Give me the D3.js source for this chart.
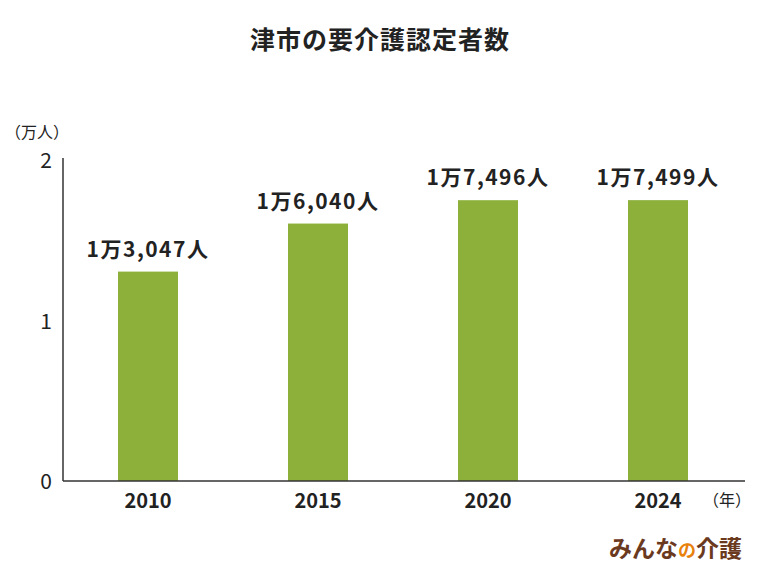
<!DOCTYPE html><html><head><meta charset="utf-8"><script src="https://cdn.jsdelivr.net/npm/d3@7"></script>
<style>body{margin:0;background:#fff}text{font-family:"Noto Sans CJK JP","Noto Sans",sans-serif}</style></head><body>
<script>
const years=["2010","2015","2020","2024"];
const values=[1.3047,1.6040,1.7496,1.7499];
const labels=["1万3,047人","1万6,040人","1万7,496人","1万7,499人"];
const yTicks=[0,1,2];
const W=760,H=570;
const svg=d3.select("body").append("svg").attr("width",W).attr("height",H);
const x=d3.scaleBand().domain(years).range([63,743]);
const y=d3.scaleLinear().domain([0,2]).range([481,160]);
svg.append("text").attr("x",380).attr("y",49).attr("text-anchor","middle").attr("font-size",25).attr("font-weight","bold").attr("letter-spacing",1).attr("fill","#222").text("津市の要介護認定者数");
svg.selectAll("rect.b").data(years).join("rect").attr("x",d=>x(d)+x.bandwidth()/2-30).attr("width",60)
 .attr("y",(d,i)=>y(values[i])).attr("height",(d,i)=>y(0)-y(values[i])).attr("fill","#8cb03a");
svg.append("line").attr("x1",63).attr("x2",63).attr("y1",158).attr("y2",481).attr("stroke","#333").attr("stroke-width",1.5);
svg.append("line").attr("x1",63).attr("x2",745).attr("y1",481).attr("y2",481).attr("stroke","#333").attr("stroke-width",1.5);
svg.selectAll("text.yt").data(yTicks).join("text").attr("x",46).attr("y",d=>y(d)+8).attr("text-anchor","middle").attr("font-size",21).attr("fill","#222").text(d=>d);
svg.selectAll("text.xt").data(years).join("text").attr("x",d=>x(d)+x.bandwidth()/2).attr("y",508).attr("text-anchor","middle").attr("font-size",20).attr("font-weight","bold").attr("fill","#222").text(d=>d);
svg.selectAll("text.vl").data(years).join("text").attr("x",d=>x(d)+x.bandwidth()/2).attr("y",(d,i)=>y(values[i])-15).attr("text-anchor","middle").attr("font-size",21).attr("font-weight","bold").attr("letter-spacing",1.5).attr("fill","#222").text((d,i)=>labels[i]);
svg.append("text").attr("x",37).attr("y",138).attr("text-anchor","middle").attr("font-size",16).attr("fill","#222").text("（万人）");
svg.append("text").attr("x",727).attr("y",506).attr("text-anchor","middle").attr("font-size",16).attr("fill","#222").text("（年）");
const lg=svg.append("text").attr("x",742).attr("y",557).attr("text-anchor","end").attr("font-size",23).attr("font-weight","bold").attr("fill","#6b3a1e");
lg.append("tspan").text("みんな");
lg.append("tspan").attr("fill","#e8820c").attr("font-size",18).text("の");
lg.append("tspan").text("介護");
</script></body></html>
